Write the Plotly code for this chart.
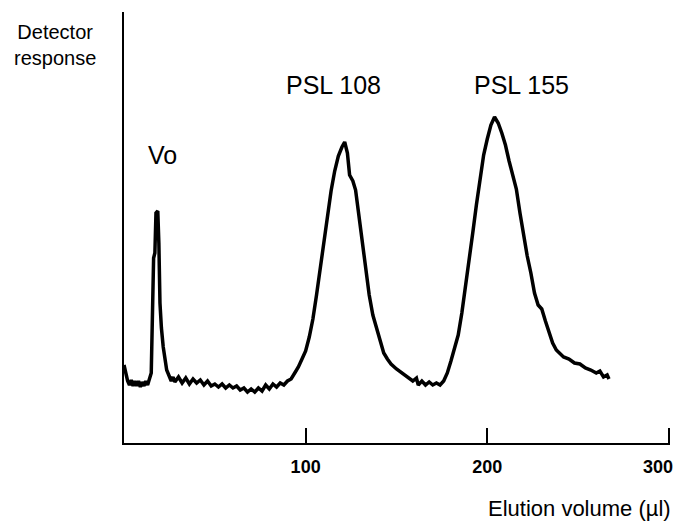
import plotly.graph_objects as go

# Elution volume (µl) and detector response (arbitrary units)
volume = [0, 1, 2, 3, 4, 5, 6, 7, 8, 9, 10, 11, 12, 13, 14,
          15.0, 16.3, 17.0, 17.6, 18.6, 19.2, 19.8, 20.6, 21.6, 23.5,
          25, 26, 27, 28, 30, 32, 34, 36, 38, 40, 42, 44, 46, 48, 50, 52, 54, 56, 58, 60,
          62, 64, 66, 68, 70, 72, 74, 76, 78, 80, 82, 84, 86, 88, 90, 92, 94, 96,
          98, 100, 102, 104, 106, 108, 110, 112, 114, 116, 118, 120, 121.5, 123, 124.2,
          126, 127.5, 129, 131, 133, 135, 137, 139, 141, 143, 145, 147, 150, 153, 156,
          159, 161, 162, 164, 166, 168, 170, 172, 174, 176, 178, 180, 182, 184, 186,
          188, 190, 192, 194, 196, 198, 200, 202, 204, 206, 208, 210, 212, 214, 216,
          218, 220, 222, 224, 226, 228, 230, 232, 234, 236, 238, 240, 242, 245, 248,
          251, 254, 257, 260, 262, 264, 266, 267]
response = [78, 68, 62, 58, 63, 57, 62, 57, 62, 56, 61, 57, 62, 58, 64,
            70, 185, 190, 230, 232, 200, 140, 115, 96, 73,
            66, 62, 66, 61, 66, 60, 65, 59, 64, 60, 63, 58, 62, 57, 59, 56, 59, 55, 58, 55,
            57, 53, 55, 51, 54, 51, 55, 52, 58, 54, 59, 56, 60, 58, 62, 64, 70, 76,
            84, 92, 106, 124, 148, 174, 204, 230, 252, 272, 287, 296, 301, 290, 268,
            262, 253, 232, 204, 175, 148, 128, 115, 100, 90, 84, 79, 74, 70, 66,
            62, 65, 58, 62, 58, 61, 58, 60, 58, 62, 70, 82, 94, 108, 130,
            155, 182, 210, 238, 264, 288, 304, 318, 326, 320, 310, 298, 282, 268, 254,
            230, 206, 187, 170, 150, 138, 134, 122, 110, 100, 93, 89, 86, 84, 80,
            79, 75, 73, 70, 72, 66, 68, 64]

tick_values = [100, 200, 300]
tick_labels = ["100", "200", "300"]

peak_labels = ["Vo", "PSL 108", "PSL 155"]
peak_label_x = [21.4, 115.4, 218.7]
peak_label_y = [288, 358, 358]

FONT = "Liberation Sans, Arial, sans-serif"
TICKFONT = dict(family=FONT, size=18, color="black", weight="bold")

fig = go.Figure()
fig.add_trace(go.Scatter(x=volume, y=response, mode="lines",
                         line=dict(color="black", width=3.5),
                         hoverinfo="skip", showlegend=False))

annotations = []
for t, ax, ay in zip(peak_labels, peak_label_x, peak_label_y):
    annotations.append(dict(text=t, x=ax, y=ay, xref="x", yref="y",
                            showarrow=False, xanchor="center", yanchor="middle",
                            font=dict(family=FONT, size=25, color="black")))
# paper-positioned axis titles (outside the plotting area)
annotations.append(dict(text="Detector<br>response", x=(55 - 124) / 546, y=(443 - 45) / 431,
                        xref="paper", yref="paper",
                        showarrow=False, xanchor="center", yanchor="middle",
                        font=dict(family=FONT, size=20, color="black")))
annotations.append(dict(text="Elution volume (µl)", x=(579 - 124) / 546, y=(443 - 509) / 431,
                        xref="paper", yref="paper",
                        showarrow=False, xanchor="center", yanchor="middle",
                        font=dict(family=FONT, size=22, color="black")))
# the last tick label sits against the right edge of the page, so place it right-aligned
annotations.append(dict(text=tick_labels[-1], x=(675 - 124) / 546, y=(443 - 467) / 431,
                        xref="paper", yref="paper",
                        showarrow=False, xanchor="right", yanchor="middle",
                        font=TICKFONT))

axis_ticktext = tick_labels[:-1] + [""]

# the page body adds an 8 px offset; size the figure so it fits the 684x522 window
fig.update_layout(
    width=676, height=514,
    margin=dict(l=116, r=14, t=4, b=79, autoexpand=False),
    paper_bgcolor="white", plot_bgcolor="white",
    showlegend=False,
    annotations=annotations,
    xaxis=dict(range=[0, 300.6], showgrid=False, zeroline=False, automargin=False,
               showline=True, linecolor="black", linewidth=2,
               ticks="inside", ticklen=15, tickwidth=2, tickcolor="black",
               tickvals=tick_values, ticktext=axis_ticktext,
               ticklabelstandoff=6,
               tickfont=TICKFONT),
    yaxis=dict(range=[0, 431], showgrid=False, zeroline=False, automargin=False,
               showline=True, linecolor="black", linewidth=2,
               ticks="", showticklabels=False),
)

fig.write_html("out.html")
